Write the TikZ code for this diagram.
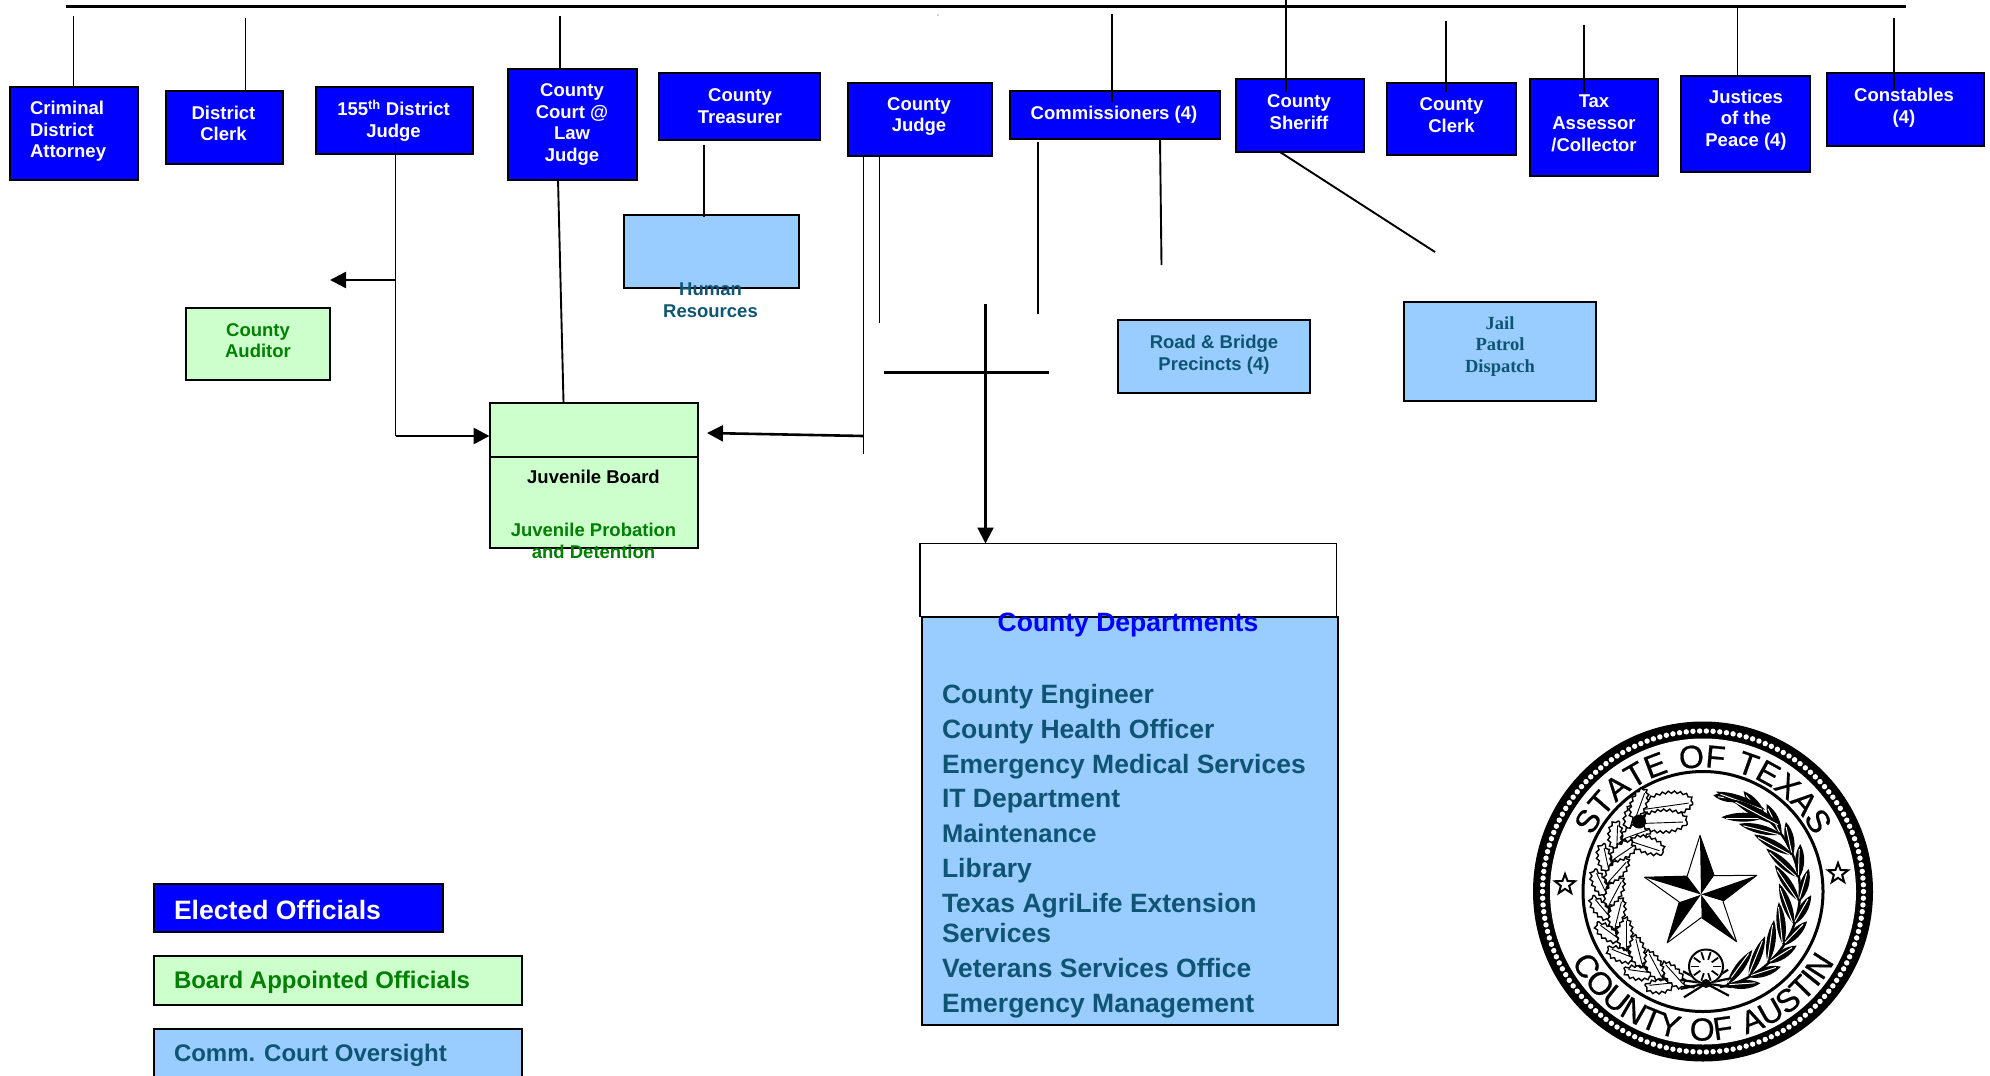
\documentclass[tikz,border=0pt]{standalone}
\usepackage{fontspec}
\setmainfont{Liberation Sans}
\newfontfamily\serifbody{Liberation Serif}
\newfontfamily\sealfont[LetterSpace=7,FakeBold=0.6]{Liberation Sans}
\newfontfamily\sealfontb[LetterSpace=11,FakeBold=0.6]{Liberation Sans}
\usetikzlibrary{calc,arrows.meta,decorations.text,decorations.pathmorphing,shapes.geometric}
\definecolor{elected}{HTML}{0000FF}
\definecolor{oversight}{HTML}{99CCFF}
\definecolor{appointed}{HTML}{CCFFCC}
\definecolor{deepgreen}{HTML}{008000}
\definecolor{teal}{HTML}{0F5473}
\tikzset{
  boxbase/.style={draw=black,line width=2pt,inner sep=0pt,outer sep=0pt},
  electedbox/.style={boxbase,fill=elected},
  overbox/.style={boxbase,fill=oversight},
  apptbox/.style={boxbase,fill=appointed},
  plainbox/.style={boxbase,line width=1.8pt,fill=white},
  lbl/.style={inner sep=0pt,outer sep=0pt,align=center,yshift=-1.5pt,font=\bfseries\fontsize{18.5}{21.7}\selectfont},
  whitelbl/.style={lbl,text=white},
  teallbl/.style={lbl,text=teal},
  greenlbl/.style={lbl,text=deepgreen},
  blacklbl/.style={lbl,text=black},
  jaillbl/.style={lbl,text=teal,font=\serifbody\bfseries\fontsize{18.5}{21.7}\selectfont},
  deptlbl/.style={inner sep=0pt,outer sep=0pt,anchor=base west,text=teal,font=\bfseries\fontsize{26.5}{30}\selectfont},
  legendlbl/.style={inner sep=0pt,outer sep=0pt,anchor=west,font=\bfseries\fontsize{24}{30}\selectfont},
  conn/.style={line width=1.9pt,black},
  thickconn/.style={line width=2.6pt,black},
  tip/.style={-{Triangle[length=16pt,width=16pt]}},
  oak/.style={draw=black,line width=1.4pt,fill=white,decorate,decoration={snake,segment length=6pt,amplitude=1.2pt}},
  olive/.style={draw=none,fill=black},
}
\newcommand{\bx}[6]{%
  \pgfmathsetmacro{\bw}{#4-#2}\pgfmathsetmacro{\bh}{#5-#3}%
  \pgfmathsetmacro{\bcx}{(#4+#2)/2}\pgfmathsetmacro{\bcy}{(#5+#3)/2+0.5}%
  \node[#6,minimum width=\bw pt,minimum height=\bh pt] (#1) at (\bcx,\bcy) {};}
\newcommand{\tx}[5]{\node[#4] (#1) at (#2,#3) {#5};}
\newcommand{\oakleaf}[4]{% x y rotation length
  \begin{scope}[shift={(#1,#2)},rotate=#3]
    \draw[oak] (#4/2,0) ellipse ({#4/2} and {#4/4.2});
    \draw[black,line width=0.9pt] (2,0) -- (#4-4,0);
  \end{scope}}
\newcommand{\oliveleaf}[4]{% x y rotation length
  \begin{scope}[shift={(#1,#2)},rotate=#3]
    \fill[olive] (0,0) .. controls (.3*#4,6) and (.7*#4,6) .. (#4,0) .. controls (.7*#4,-6) and (.3*#4,-6) .. (0,0);
    \draw[white,line width=1pt] (3,0.8) -- (#4-5,0.8);
  \end{scope}}
\begin{document}
\begin{tikzpicture}[x=1pt,y=-1pt]
\useasboundingbox (0,0) rectangle (1990,1076);
% elected row
\bx{crim}{10}{86}{138}{179}{electedbox}
\bx{dclerk}{166}{90}{282.5}{163}{electedbox}
\bx{judge155}{316}{86}{472.5}{153}{electedbox}
\bx{court}{508}{68}{636.5}{179}{electedbox}
\bx{treas}{659}{72}{820}{139}{electedbox}
\bx{cjudge}{848}{82}{992}{155}{electedbox}
\bx{comm}{1010}{90}{1220}{138}{electedbox}
\bx{sheriff}{1235.5}{78}{1364}{151}{electedbox}
\bx{cclerk}{1387}{82}{1516}{154}{electedbox}
\bx{tax}{1529.5}{78}{1658}{175}{electedbox}
\bx{jp}{1681}{75}{1809.5}{171}{electedbox}
\bx{const}{1827}{72}{1984}{145}{electedbox}
% second tier
\bx{hr}{624}{214}{798.5}{287}{overbox}
\bx{road}{1117.5}{319}{1309.5}{392}{overbox}
\bx{jail}{1404}{301.5}{1596}{400}{overbox}
\bx{auditor}{186}{307}{330}{379}{apptbox}
\bx{juvtop}{489.5}{402}{698}{456}{apptbox}
\bx{juvlow}{489.5}{456}{698}{547}{apptbox}
\bx{deptw}{920}{543}{1336.5}{616}{plainbox}
\bx{dept}{921.5}{616}{1338}{1024}{overbox}
% legend
\bx{legA}{153.5}{883}{443}{931.5}{electedbox}
\bx{legB}{153.5}{955.5}{522}{1004}{apptbox}
\bx{legC}{153.5}{1028}{522}{1076}{overbox}
% labels
\node[whitelbl,align=left,anchor=west] (t1) at (30,130) {Criminal\\District\\Attorney};
\tx{t2}{223.5}{122}{whitelbl}{District\\Clerk}
\tx{t3}{393.5}{119}{whitelbl}{155\textsuperscript{th} District\\Judge}
\tx{t4}{572}{123}{whitelbl}{County\\Court @\\Law\\Judge}
\tx{t5}{740}{104.5}{whitelbl}{County\\Treasurer}
\tx{t6}{919}{115}{whitelbl}{County\\Judge}
\tx{t7}{1114}{113}{whitelbl}{Commissioners (4)}
\tx{t8}{1299}{110.5}{whitelbl}{County\\Sheriff}
\tx{t9}{1451.5}{113.5}{whitelbl}{County\\Clerk}
\tx{t10}{1594}{122}{whitelbl}{Tax\\Assessor\\/Collector}
\tx{t11}{1746}{118.5}{whitelbl}{Justices\\of the\\Peace (4)}
\tx{t12}{1904}{106}{whitelbl}{Constables\\(4)}
\tx{t13}{710.5}{298.5}{teallbl}{Human\\Resources}
\tx{t14}{1214}{353}{teallbl}{Road \& Bridge\\Precincts (4)}
\tx{t15}{1500}{345}{jaillbl}{Jail\\Patrol\\Dispatch}
\tx{t16}{258}{339}{greenlbl}{County\\Auditor}
\tx{t17}{593.5}{475.5}{blacklbl}{Juvenile Board}
\tx{t18}{593.5}{539.5}{greenlbl}{Juvenile Probation\\and Detention}
\node[deptlbl,anchor=base,text=elected,font=\bfseries\fontsize{26.5}{30}\selectfont] (d0) at (1128,631) {County Departments};
\node[deptlbl] (d1) at (942,703) {County Engineer};
\node[deptlbl] (d2) at (942,738) {County Health Officer};
\node[deptlbl] (d3) at (942,773) {Emergency Medical Services};
\node[deptlbl] (d4) at (942,807) {IT Department};
\node[deptlbl,font=\bfseries\fontsize{25.5}{30}\selectfont] (d5) at (942,842) {Maintenance};
\node[deptlbl] (d6) at (942,877) {Library};
\node[deptlbl] (d7) at (942,912) {Texas AgriLife Extension};
\node[deptlbl] (d8) at (942,942) {Services};
\node[deptlbl] (d9) at (942,977) {Veterans Services Office};
\node[deptlbl] (d10) at (942,1012) {Emergency Management};
\node[legendlbl,text=white,font=\bfseries\fontsize{26.6}{30}\selectfont] (la) at (174,910) {Elected Officials};
\node[legendlbl,text=deepgreen] (lb) at (174,982.5) {Board Appointed Officials};
\node[legendlbl,text=teal] (lc) at (174,1055.5) {Comm. Court Oversight};
% free ends
\coordinate (barL) at (66,6.5); \coordinate (barR) at (1906,6.5);
\coordinate (s1) at (73.5,16);  \coordinate (s2) at (245.5,18); \coordinate (s3) at (560,16);
\coordinate (s4) at (1112,14);  \coordinate (s4b) at (1112,102);
\coordinate (s5) at (1286,0);   \coordinate (s5b) at (1286,92);
\coordinate (s6) at (1446,21);  \coordinate (s6b) at (1446,92);
\coordinate (s7) at (1584,25);  \coordinate (s7b) at (1584,93);
\coordinate (s8) at (1737.5,5); \coordinate (s8b) at (1737.5,77);
\coordinate (s9) at (1894,18);  \coordinate (s9b) at (1894,90);
\coordinate (v155a) at (395.5,142); \coordinate (v155b) at (395.5,436);
\coordinate (audEnd) at (330,280);  \coordinate (audStart) at (395.5,280);
\coordinate (courtA) at (558,179);  \coordinate (courtB) at (563.5,402);
\coordinate (trA) at (704,145);     \coordinate (trB) at (704,217);
\coordinate (cj1a) at (863.5,156);  \coordinate (cj1b) at (863.5,454);
\coordinate (cj2a) at (879.5,155);  \coordinate (cj2b) at (879.5,323);
\coordinate (cj3) at (985.5,304);   \coordinate (cross1) at (884,372.5); \coordinate (cross2) at (1049,372.5);
\coordinate (cm1a) at (1038,142);   \coordinate (cm1b) at (1038,314);
\coordinate (cm2a) at (1160,138);   \coordinate (cm2b) at (1161.5,265);
\coordinate (shA) at (1280,152);    \coordinate (shB) at (1435,252);
\coordinate (juvL) at (395.5,436);  \coordinate (juvRa) at (863.5,436); \coordinate (juvRb) at (707,433);
\coordinate (speck) at (938,15);
% connectors
\draw[conn,line width=2.2pt] (barL) -- (barR);
\draw[conn] (s1) -- (s1 |- crim.north);
\draw[conn] (s2) -- (s2 |- dclerk.north);
\draw[conn] (s3) -- (s3 |- court.north);
\draw[conn] (s4) -- (s4b);
\draw[conn] (s5) -- (s5b);
\draw[conn] (s6) -- (s6b);
\draw[conn] (s7) -- (s7b);
\draw[conn] (s8) -- (s8b);
\draw[conn] (s9) -- (s9b);
\draw[conn] (v155a) -- (v155b);
\draw[thickconn,tip] (audStart) -- (audEnd);
\draw[thickconn,tip] (juvL) -- (juvL -| juvtop.west);
\draw[conn] (courtA) -- (courtB);
\draw[conn] (trA) -- (trB);
\draw[conn] (cj1a) -- (cj1b);
\draw[conn] (cj2a) -- (cj2b);
\draw[thickconn,tip] (juvRa) -- (juvRb);
\draw[conn,line width=2.2pt,tip] (cj3) -- (cj3 |- deptw.north);
\draw[conn,line width=2.2pt] (cross1) -- (cross2);
\draw[conn] (cm1a) -- (cm1b);
\draw[conn] (cm2a) -- (cm2b);
\draw[conn] (shA) -- (shB);
\fill[black!70] (speck) circle (0.6);
% seal
\begin{scope}[shift={(1703,891.5)},x=1pt,y=1pt]
  % rings: black band with a chain of white beads
  \fill[black] (0,0) circle (170);
  \foreach \a in {0,2.4,...,357.7} { \fill[white] (\a:160.5) circle (2.7); }
  \fill[white] (0,0) circle (153);
  \draw[black,line width=3pt] (0,0) circle (120);
  % lettering
  \path[decorate,decoration={text along path,text align=center,
     text={|\sealfont\fontsize{32}{32}\selectfont|STATE OF TEXAS}}]
     (155:124) arc (155:25:124);
  \path[decorate,decoration={text along path,text align=center,
     text={|\sealfontb\fontsize{32}{32}\selectfont|COUNTY OF AUSTIN}}]
     (196:149) arc (196:344:149);
  \node[star,star points=5,star point ratio=2.4,draw=black,line width=2pt,fill=white,minimum size=21pt,inner sep=0pt] (sealstarL) at (-138,7) {};
  \node[star,star points=5,star point ratio=2.4,draw=black,line width=2pt,fill=white,minimum size=21pt,inner sep=0pt] (sealstarR) at (135,18) {};
  % olive branch
  \draw[black,line width=2.4pt] (-80:97) arc (-80:50:97);
  \foreach \a in {-76,-62,...,50} {
    \pgfmathsetmacro{\ox}{97*cos(\a)}\pgfmathsetmacro{\oy}{97*sin(\a)}
    \pgfmathsetmacro{\r}{\a+90-10}\oliveleaf{\ox}{\oy}{\r}{34}
    \pgfmathsetmacro{\r}{\a+90+40}\oliveleaf{\ox}{\oy}{\r}{44}
  }
  \oliveleaf{40}{92}{172}{30}
  \oliveleaf{62}{82}{160}{52}
  \oliveleaf{78}{66}{152}{56}
  % oak branch
  \draw[black,line width=2.6pt] (-95:96) arc (-95:-240:96);
  \foreach \a in {-108,-122,...,-220} {
    \pgfmathsetmacro{\ox}{96*cos(\a)}\pgfmathsetmacro{\oy}{96*sin(\a)}
    \pgfmathsetmacro{\r}{\a-90+24}\oakleaf{\ox}{\oy}{\r}{28}
    \pgfmathsetmacro{\ox}{96*cos(\a+7)}\pgfmathsetmacro{\oy}{96*sin(\a+7)}
    \pgfmathsetmacro{\r}{\a-90-30}\oakleaf{\ox}{\oy}{\r}{32}
  }
  \oakleaf{-60}{82}{8}{50}
  \oakleaf{-62}{68}{2}{46}
  \oakleaf{-72}{50}{-18}{34}
  \oakleaf{-68}{72}{70}{32}
  \fill[black] (-64,70) circle (7);
  % bow
  \foreach \d in {-28,-8,12,32} {
    \draw[black,line width=2.2pt] (3,-92) -- ++(\d:26);
    \draw[black,line width=2.2pt] (3,-92) -- ++(180+\d:26);
  }
  \fill[white] (3,-75) circle (18);
  \draw[black,line width=2pt] (3,-75) circle (17);
  \foreach \a in {0,36,...,324} { \draw[black,line width=1.8pt] ($(3,-75)+(\a:7)$) -- ($(3,-75)+(\a:15)$); }
  \fill[black] (3,-92) circle (4.5);
  % star
  \coordinate (sc) at (-2,-3);
  \foreach \k in {0,1,2,3,4} {
    \pgfmathsetmacro{\tipA}{91-72*\k}
    \coordinate (tp) at ($(sc)+(\tipA:59)$);
    \coordinate (inR) at ($(sc)+(\tipA-36:23)$);
    \coordinate (inL) at ($(sc)+(\tipA+36:23)$);
    \fill[white] (sc) -- (tp) -- (inL) -- cycle;
    \fill[black] (sc) -- (tp) -- (inR) -- cycle;
    \draw[black,line width=1pt,line join=round] (inL) -- (tp) -- (inR);
  }
\end{scope}
\end{tikzpicture}
\end{document}
